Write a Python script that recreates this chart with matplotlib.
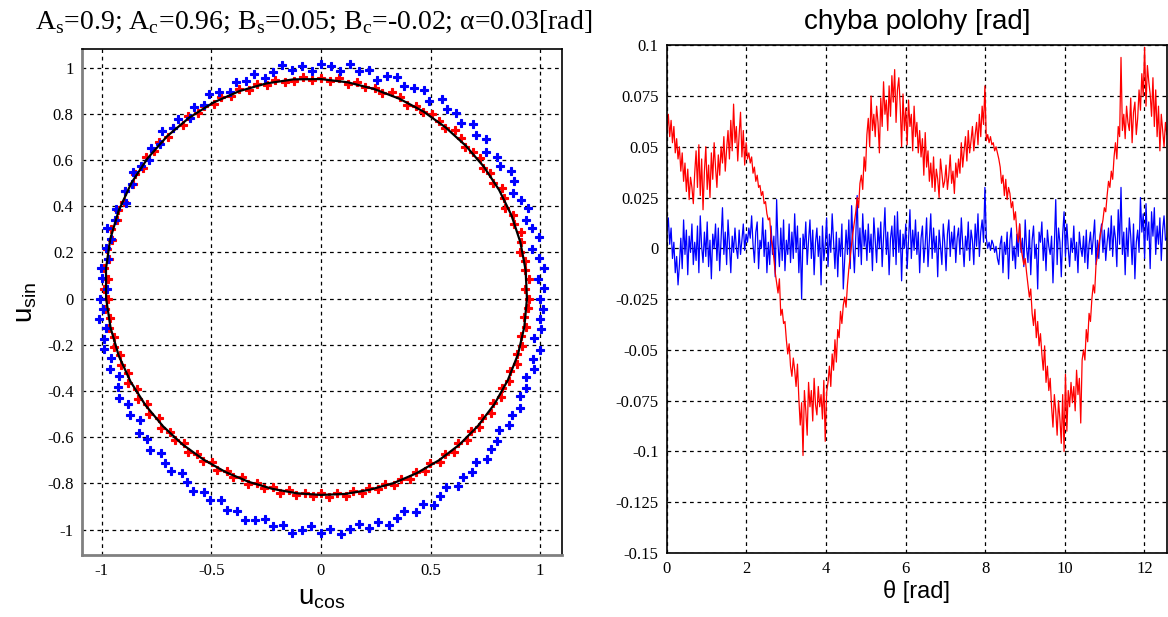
import numpy as np
import matplotlib.pyplot as plt

plt.rcParams['axes.unicode_minus'] = False

# left panel: radius (x1000) of each point around the origin, evenly spaced in angle
blue_r = [1000, 1018, 992, 1025, 1008, 985, 1030, 1012, 996, 1022,
          1005, 990, 1015, 1028, 998, 1010, 984, 1020, 1003, 1026,
          992, 1012, 1000, 1024, 987, 1016, 1006, 994, 1021, 1009,
          981, 1014, 1000, 1023, 990, 1007, 1017, 985, 1011, 998,
          1025, 1004, 989, 1019, 1002, 1013, 986, 1008, 1022, 995,
          1010, 983, 1016, 1001, 1027, 993, 1011, 988, 1004, 1018,
          996, 1009, 980, 1014, 1000, 1021, 991, 1006, 985, 1013,
          1002, 978, 1010, 995, 1017, 987, 1003, 1012, 990, 1008,
          982, 1000, 1015, 993, 1006, 979, 1011, 998, 1020, 988,
          1004, 1013, 985, 1001, 1016, 992, 1008, 983, 1012, 997,
          1019, 1003, 990, 1010, 995, 1022, 1005, 987, 1014, 999,
          1025, 1008, 993, 1018, 1002, 1028, 1010, 996, 1021, 1004,
          1030, 1012, 998, 1024, 1006, 1019, 1000, 1027, 1010, 1015,
          992, 1020, 1005, 1026, 1000, 1013, 996, 1018, 1004, 1023,
          989, 1011, 1002, 1016]
red_r = [948, 933, 955, 940, 947, 931, 946, 957, 938, 946,
         929, 941, 953, 930, 944, 931, 948, 939, 927, 944,
         950, 930, 938, 947, 933, 941, 926, 946, 952, 931,
         945, 936, 951, 938, 957, 941, 955, 948, 962, 951,
         952, 971, 956, 975, 960, 981, 966, 984, 972, 989,
         978, 996, 981, 999, 986, 1003, 992, 1005, 989, 1006,
         991, 1008, 993, 1001, 989, 1006, 985, 1000, 982, 997,
         977, 992, 970, 987, 964, 976, 957, 967, 948, 958,
         939, 951, 925, 939, 917, 928, 904, 918, 897, 905,
         884, 899, 877, 887, 866, 882, 861, 873, 853, 869,
         851, 861, 846, 860, 842, 857, 844, 855, 842, 859,
         845, 862, 846, 863, 849, 866, 855, 873, 860, 879,
         866, 885, 871, 892, 879, 899, 884, 906, 893, 911,
         898, 919, 907, 924, 913, 931, 918, 937, 925, 941,
         928, 944, 931, 947]
# fitted ellipse, radius (x1000) every 7.5 deg
fit_r = [940, 942, 942, 941, 939, 937, 935, 934, 935, 936, 939, 944,
         950, 957, 964, 972, 980, 987, 993, 997, 999, 998, 995, 989,
         980, 968, 955, 940, 924, 908, 893, 879, 868, 859, 853, 850,
         850, 853, 857, 865, 873, 883, 894, 904, 914, 923, 931, 936]
ucos_ticks = ['-1', '-0.5', '0', '0.5', '1']
usin_ticks = ['-1', '-0.8', '-0.6', '-0.4', '-0.2', '0', '0.2', '0.4', '0.6', '0.8', '1']

# right panel: position error [mrad], samples over 0..4pi
red_err = [58, 66, 55, 63, 52, 60, 47, 54, 44, 50,
           38, 47, 33, 42, 28, 39, 24, 35, 30, 22,
           37, 48, 30, 51, 26, 44, 19, 38, 50, 29,
           41, 25, 47, 34, 52, 40, 30, 46, 36, 50,
           42, 55, 38, 49, 58, 44, 63, 48, 71, 52,
           60, 43, 56, 67, 45, 58, 41, 52, 44, 47,
           42, 45, 37, 40, 33, 36, 30, 31, 26, 28,
           22, 23, 17, 14, 15, 5, 1, -5, -12, -17,
           -22, -15, -33, -30, -37, -36, -45, -52, -47, -58,
           -63, -54, -60, -68, -57, -74, -87, -76, -102, -70,
           -80, -92, -66, -78, -70, -85, -64, -77, -82, -68,
           -78, -72, -84, -65, -95, -71, -66, -58, -68, -52,
           -60, -45, -56, -40, -44, -31, -37, -28, -24, -29,
           -18, -10, -4, 2, 8, 13, 18, 25, 20, 32,
           36, 29, 45, 38, 56, 64, 50, 75, 58, 66,
           55, 70, 62, 47, 74, 60, 82, 66, 73, 58,
           80, 65, 85, 72, 88, 62, 78, 84, 70, 50,
           76, 58, 69, 51, 73, 60, 66, 48, 70, 55,
           62, 47, 58, 45, 54, 36, 57, 40, 48, 33,
           42, 30, 45, 28, 39, 34, 25, 44, 37, 30,
           33, 41, 29, 36, 46, 32, 38, 27, 42, 35,
           44, 37, 52, 40, 48, 55, 43, 58, 47, 53,
           60, 48, 56, 62, 51, 66, 55, 70, 61, 80,
           53, 56, 52, 55, 51, 52, 48, 50, 47, 44,
           40, 32, 36, 26, 34, 24, 30, 27, 20, 23,
           14, 18, 8, 3, 12, 0, -4, -8, -5, -12,
           -18, -24, -20, -32, -38, -30, -44, -36, -48, -42,
           -52, -60, -48, -66, -58, -70, -64, -78, -88, -72,
           -80, -92, -75, -84, -96, -72, -100, -62, -90, -70,
           -78, -66, -76, -68, -80, -60, -72, -64, -86, -55,
           -50, -55, -40, -46, -32, -36, -25, -18, -22, -8,
           -4, 2, 6, 10, 14, 20, 18, 26, 33, 30,
           38, 34, 45, 52, 44, 60, 55, 94, 58, 66,
           54, 70, 62, 58, 74, 52, 67, 72, 56, 64,
           78, 68, 86, 75, 99, 70, 90, 82, 76, 65,
           84, 60, 78, 55, 70, 48, 66, 58, 50, 62,
           56]
blue_err = [8, 15, 2, 10, -5, 3, -12, -4, -18, -8,
            5, -10, 14, -3, 9, -13, 6, -2, 12, -8,
            3, -6, 11, -12, 16, 1, -7, 8, -4, 13,
            -9, 4, -15, 7, 0, 12, -6, 10, -11, 5,
            20, -3, 8, -8, 14, 2, -12, 6, -2, 10,
            0, -5, 9, -3, 4, 12, -1, 7, 3, 10,
            5, 16, 2, -7, 8, 13, -10, 4, 0, 15,
            -4, 9, -12, 3, -8, 11, -3, 6, -14, 24,
            2, -9, 10, -6, 14, -11, 4, -3, 12, -7,
            8, -5, 17, -2, 11, -12, 5, -25, 7, 0,
            13, -8, 4, 14, -5, 9, -13, 3, 10, -4,
            6, -18, 11, -6, 2, 15, -9, 7, -2, 17,
            3, -10, 8, -14, 5, -4, 12, -20, -6, 9,
            -3, 14, -10, 21, 2, -12, 6, 26, -4, 10,
            -8, 17, 1, 9, -6, 12, -2, 7, -11, 15,
            4, -7, 10, 0, 13, -9, 6, 20, -3, 8,
            -13, 5, 11, -4, 16, -8, 18, -2, 9, -16,
            7, 0, 12, -10, 4, 19, -5, 9, -1, 14,
            -3, 8, -12, 5, 11, -7, 2, 15, -9, 4,
            17, -5, 10, -2, 6, -14, 9, 1, -8, 12,
            3, -11, 7, 14, -4, 8, 0, 11, -7, 5,
            10, -3, 15, 2, -9, 6, -1, 13, -6, 9,
            4, -8, 12, 1, 17, -4, 8, 14, 3, 30,
            5, 0, 3, -1, 4, 2, -2, 1, -5, -8,
            2, 6, -12, 3, -3, 8, -15, 4, 10, -6,
            1, -10, 7, -4, 12, -2, 5, -9, 14, 0,
            -7, 9, -13, 4, 11, -5, 2, -20, 8, 3,
            13, -6, 5, -11, 9, 1, -3, 6, -17, 2,
            24, -8, 10, 3, -14, 7, 18, -4, 12, 0,
            -9, 5, -2, 11, -6, 3, -12, 8, 0, -4,
            6, -7, 9, -10, 2, 8, -3, 5, 14, -8,
            4, -5, 7, 12, -2, 9, -6, 3, 10, -1,
            16, -4, 11, 5, -9, 19, 2, 30, -3, 8,
            -13, 10, -4, 15, 6, -8, 12, -15, 3, 9,
            -2, 25, 8, 17, -5, 22, 4, 13, -10, 18,
            6, 20, -3, 11, 2, 15, -6, 9, 16, 4,
            5]
theta_ticks = [0, 2, 4, 6, 8, 10, 12]
err_ticks = [-0.15, -0.125, -0.1, -0.075, -0.05, -0.025, 0, 0.025, 0.05, 0.075, 0.1]
err_labels = ['-0.15', '-0.125', '-0.1', '-0.075', '-0.05', '-0.025', '0',
              '0.025', '0.05', '0.075', '0.1']

serif = 'Liberation Serif'
sans = 'Liberation Sans'

fig = plt.figure(figsize=(11.68, 6.17), dpi=100)
ax1 = fig.add_axes([0.0702, 0.1005, 0.411, 0.820])
ax2 = fig.add_axes([0.571, 0.1037, 0.428, 0.823])


def ring(radii):
    r = np.array(radii) / 1000
    ang = np.linspace(0, 2 * np.pi, len(r), endpoint=False)
    return r * np.cos(ang), r * np.sin(ang)


# --- left: u_cos vs u_sin
xr, yr = ring(red_r)
xb, yb = ring(blue_r)
ax1.plot(xr, yr, 'P', color='#ff0000', ms=5.5, mew=0.8)
ax1.plot(xb, yb, 'P', color='#0000ff', ms=5.5, mew=0.8)
xf, yf = ring(fit_r)
ax1.plot(np.append(xf, xf[0]), np.append(yf, yf[0]), color='black', lw=1.6)

ax1.set_xlim(-1.09, 1.1)
ax1.set_ylim(-1.11, 1.08)
ax1.set_xticks([-1, -0.5, 0, 0.5, 1])
ax1.set_yticks(np.round(np.arange(-1, 1.01, 0.2), 1))
ax1.set_xticklabels(ucos_ticks)
ax1.set_yticklabels(usin_ticks)
ax1.set_title(r'A$_\mathregular{s}$=0.9; A$_\mathregular{c}$=0.96; B$_\mathregular{s}$=0.05; '
              r'B$_\mathregular{c}$=-0.02; α=0.03[rad]', family=serif, fontsize=20,
              pad=14, x=0.483)
ax1.set_xlabel(r'u$_\mathregular{cos}$', family=sans, fontsize=20, labelpad=4)
ax1.set_ylabel(r'u$_\mathregular{sin}$', family=sans, fontsize=20, labelpad=6)

# --- right: position error
ax2.plot(np.linspace(0, 4 * np.pi, len(blue_err)), np.array(blue_err) / 1000,
         color='#0000ff', lw=0.9)
ax2.plot(np.linspace(0, 4 * np.pi, len(red_err)), np.array(red_err) / 1000,
         color='#ff0000', lw=0.9)
ax2.set_xlim(0, 4 * np.pi)
ax2.set_ylim(-0.15, 0.1)
ax2.set_xticks(theta_ticks)
ax2.set_yticks(err_ticks)
ax2.set_yticklabels(err_labels)
ax2.set_title('chyba polohy [rad]', family=sans, fontsize=20, pad=12)
ax2.set_xlabel('θ [rad]', family=sans, fontsize=17, labelpad=2)

for ax in (ax1, ax2):
    ax.grid(True, color='black', ls=(0, (3, 3)), lw=0.9)
    ax.tick_params(direction='in', length=0, labelsize=12, pad=6,
                   labelfontfamily=serif)
    for s in ax.spines.values():
        s.set_linewidth(1.2)
for s in ('left', 'bottom'):
    ax1.spines[s].set_color('#808080')
    ax1.spines[s].set_linewidth(2)

fig.savefig('out.png', dpi=100)
